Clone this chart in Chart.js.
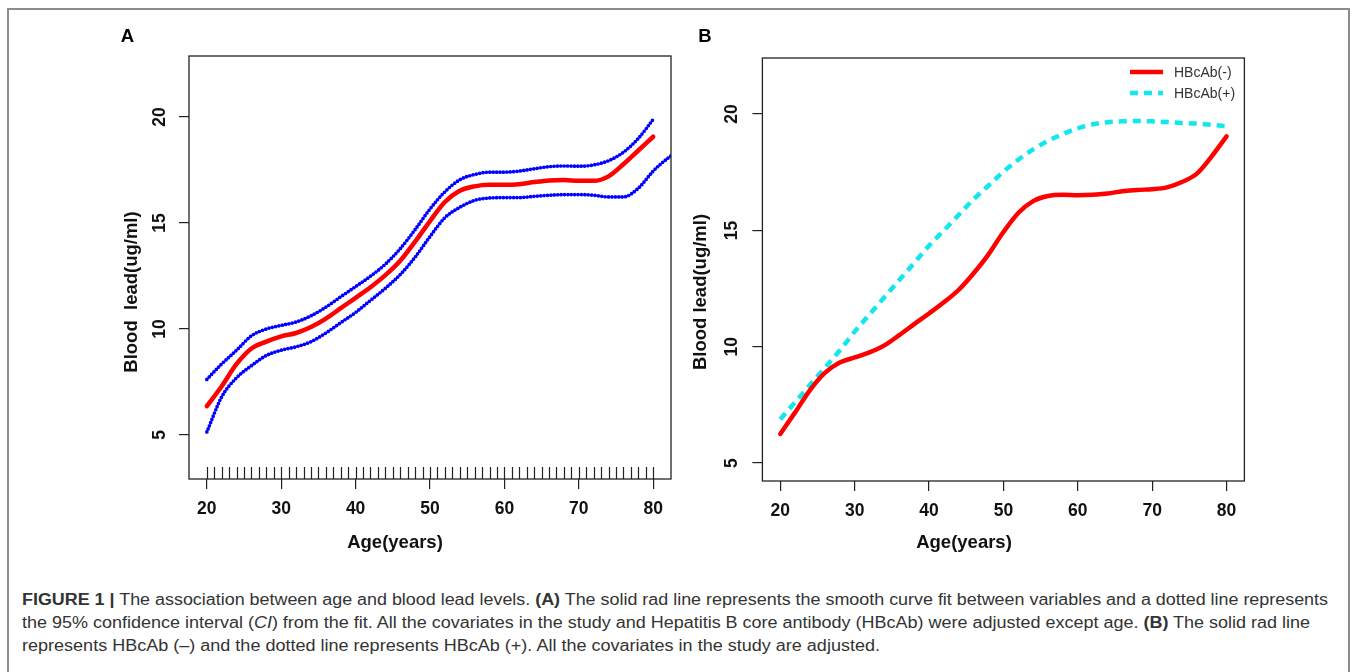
<!DOCTYPE html>
<html>
<head>
<meta charset="utf-8">
<script src="https://cdn.jsdelivr.net/npm/chart.js@4.4.1/dist/chart.umd.min.js"></script>
<style>
  body { margin: 0; width: 1357px; height: 672px; background: #fff; position: relative; overflow: hidden;
         font-family: "Liberation Sans", Arial, sans-serif; }
  #frame { position: absolute; left: 7px; top: 8px; width: 1339px; height: 700px; border: 2px solid #8c8c8c; }
  canvas { position: absolute; }
  #chartA { left: 100px; top: 20px; }
  #chartB { left: 680px; top: 20px; }
  #caption { position: absolute; left: 22px; top: 588px; font-size: 16px; line-height: 23px; color: #333; }
  #caption .line { display: block; white-space: nowrap; transform-origin: 0 50%; width: max-content; }
</style>
</head>
<body>
<div id="frame"></div>
<canvas id="chartA" width="600" height="560"></canvas>
<canvas id="chartB" width="600" height="560"></canvas>
<div id="caption">
  <span class="line"><b>FIGURE 1 |</b> The association between age and blood lead levels. <b>(A)</b> The solid rad line represents the smooth curve fit between variables and a dotted line represents</span>
  <span class="line">the 95% confidence interval (<i>CI</i>) from the fit. All the covariates in the study and Hepatitis B core antibody (HBcAb) were adjusted except age. <b>(B)</b> The solid rad line</span>
  <span class="line">represents HBcAb (–) and the dotted line represents HBcAb (+). All the covariates in the study are adjusted.</span>
</div>
<script>
const ages = [20, 22, 24, 26, 28, 30, 32, 34, 36, 38, 40, 42, 44, 46, 48, 50,
              52, 54, 56, 58, 60, 62, 64, 66, 68, 70, 72, 74, 76, 78, 80];

// panel A: smooth fit and 95% CI
const fitA   = [6.36, 7.30, 8.35, 9.08, 9.40, 9.65, 9.81, 10.09, 10.49, 10.98, 11.47, 11.97, 12.54, 13.22, 14.12, 15.09,
                15.99, 16.52, 16.73, 16.80, 16.80, 16.83, 16.93, 17.01, 17.03, 16.99, 16.99, 17.20, 17.77, 18.42, 19.07];
const upperA = [7.62, 8.35, 9.00, 9.68, 10.00, 10.17, 10.33, 10.62, 11.03, 11.52, 12.00, 12.49, 13.06, 13.79, 14.69, 15.66,
                16.47, 17.04, 17.29, 17.40, 17.40, 17.45, 17.56, 17.66, 17.69, 17.68, 17.74, 17.94, 18.34, 18.99, 19.89];
const lowerA = [5.14, 6.80, 7.70, 8.27, 8.75, 9.00, 9.16, 9.40, 9.81, 10.30, 10.78, 11.35, 11.92, 12.57, 13.39, 14.36,
                15.25, 15.74, 16.07, 16.18, 16.20, 16.20, 16.26, 16.31, 16.34, 16.34, 16.31, 16.23, 16.23, 16.64, 17.45];
// the lower band runs on past 80 to the box edge
const lowerTailAges = [81, 82.5];
const lowerTailA    = [17.78, 18.20];

// rug of observed ages along the bottom of panel A
const rugAges = [20, 21, 22, 23, 24, 25, 26, 27, 28, 29, 30, 31, 32, 33, 34, 35, 36, 37, 38, 39, 40,
                 41, 42, 43, 44, 45, 46, 47, 48, 49, 50, 51, 52, 53, 54, 55, 56, 57, 58, 59, 60,
                 61, 62, 63, 64, 65, 66, 67, 68, 69, 70, 71, 72, 73, 74, 75, 76, 77, 78, 79, 80];

// panel B: stratified by HBcAb
const negB = [6.25, 7.18, 8.14, 8.88, 9.32, 9.54, 9.76, 10.06, 10.50, 10.97, 11.43, 11.91, 12.45, 13.16, 13.97, 14.93,
              15.75, 16.26, 16.48, 16.53, 16.51, 16.53, 16.59, 16.68, 16.74, 16.77, 16.85, 17.08, 17.44, 18.18, 19.04];
const posB = [6.88, 7.62, 8.36, 9.10, 9.84, 10.65, 11.39, 12.13, 12.87, 13.60, 14.34, 15.00, 15.67, 16.34, 16.93, 17.52,
              18.04, 18.48, 18.85, 19.14, 19.39, 19.56, 19.65, 19.69, 19.70, 19.69, 19.66, 19.62, 19.59, 19.54, 19.47];

const xTicks = [20, 30, 40, 50, 60, 70, 80];
const yTicks = [5, 10, 15, 20];
const legendLabels = ['HBcAb(-)', 'HBcAb(+)'];

const FONT = '"Liberation Sans", Arial, sans-serif';
const capWidths = [1306, 1288, 858];

function pts(xs, ys) {
    return xs.map((x, i) => ({ x: x, y: ys[i] }));
}

// box, rug, rotated y labels, titles, panel letter and legend
const decor = {
    id: 'decor',
    afterDatasetsDraw(chart, args, o) {
        const { ctx, chartArea: a, scales } = chart;
        ctx.save();
        if (o.rug) {
            ctx.strokeStyle = '#222';
            ctx.lineWidth = 1.2;
            ctx.beginPath();
            o.rug.forEach(v => {
                const x = Math.round(scales.x.getPixelForValue(v)) + 0.5;
                ctx.moveTo(x, a.bottom);
                ctx.lineTo(x, a.bottom - 12);
            });
            ctx.stroke();
        }
        ctx.strokeStyle = '#222';
        ctx.lineWidth = 1.3;
        ctx.strokeRect(a.left, a.top, a.right - a.left, a.bottom - a.top);

        ctx.fillStyle = '#111';
        ctx.textAlign = 'center';
        ctx.textBaseline = 'middle';
        ctx.font = 'bold 17.5px ' + FONT;
        scales.y.ticks.forEach(t => {
            const y = scales.y.getPixelForValue(t.value);
            ctx.save();
            ctx.translate(o.yLabelX, y);
            ctx.rotate(-Math.PI / 2);
            ctx.fillText(String(t.value), 0, 0);
            ctx.restore();
        });
        ctx.font = 'bold 18.5px ' + FONT;
        ctx.fillText(o.xTitle, o.xTitlePos[0], o.xTitlePos[1]);
        ctx.save();
        ctx.translate(o.yTitlePos[0], o.yTitlePos[1]);
        ctx.rotate(-Math.PI / 2);
        ctx.fillText(o.yTitle, 0, 0);
        ctx.restore();
        ctx.fillStyle = '#000';
        ctx.fillText(o.letter, o.letterPos[0], o.letterPos[1]);

        if (o.legend) {
            ctx.font = '14px ' + FONT;
            ctx.textAlign = 'left';
            chart.data.datasets.forEach((ds, i) => {
                const y = o.legend.y + i * o.legend.gap;
                ctx.strokeStyle = ds.borderColor;
                ctx.lineWidth = ds.borderWidth;
                ctx.setLineDash(ds.borderDash || []);
                ctx.beginPath();
                ctx.moveTo(o.legend.x, y);
                ctx.lineTo(o.legend.x + 33, y);
                ctx.stroke();
                ctx.setLineDash([]);
                ctx.fillStyle = '#333';
                ctx.fillText(ds.label, o.legend.x + 44, y + 1);
            });
        }
        ctx.restore();
    }
};

function options(yMin, yMax, pad, yWidth, xHeight, tickPad, decorOpts) {
    return {
        responsive: false,
        animation: false,
        devicePixelRatio: 1,
        layout: { padding: pad },
        plugins: { legend: { display: false }, tooltip: { enabled: false }, decor: decorOpts },
        elements: { point: { radius: 0 } },
        scales: {
            x: {
                type: 'linear', min: 17.6, max: 82.4,
                afterBuildTicks: s => { s.ticks = xTicks.map(v => ({ value: v })); },
                afterFit: s => { s.height = xHeight; },
                ticks: { color: '#111', padding: tickPad, maxRotation: 0, autoSkip: false,
                         font: { family: FONT, size: 17.5, weight: 'bold' } },
                grid: { drawOnChartArea: false, drawTicks: true, tickLength: 10, color: '#222', lineWidth: 1.2 },
                border: { display: false }
            },
            y: {
                type: 'linear', min: yMin, max: yMax,
                afterBuildTicks: s => { s.ticks = yTicks.map(v => ({ value: v })); },
                afterFit: s => { s.width = yWidth; },
                ticks: { display: false },
                grid: { drawOnChartArea: false, drawTicks: true, tickLength: 10, color: '#222', lineWidth: 1.2 },
                border: { display: false }
            }
        }
    };
}

const dotted = { borderColor: '#0000ff', borderWidth: 3.7, borderDash: [0, 3.4], borderCapStyle: 'round',
                 cubicInterpolationMode: 'monotone', fill: false };

new Chart(document.getElementById('chartA'), {
    type: 'line',
    data: {
        datasets: [
            Object.assign({ label: 'upper', data: pts(ages, upperA) }, dotted),
            Object.assign({ label: 'lower', data: pts(ages.concat(lowerTailAges), lowerA.concat(lowerTailA)) }, dotted),
            { label: 'fit', data: pts(ages, fitA), borderColor: '#ff0000', borderWidth: 4.5,
              cubicInterpolationMode: 'monotone', borderCapStyle: 'round', fill: false }
        ]
    },
    options: options(2.92, 22.88, { top: 36, right: 29, left: 0, bottom: 0 }, 89, 101, 10, {
        rug: rugAges,
        yLabelX: 60, yTitlePos: [32, 272], yTitle: 'Blood  lead(ug/ml)',
        xTitlePos: [295, 523], xTitle: 'Age(years)',
        letter: 'A', letterPos: [27.5, 17]
    }),
    plugins: [decor]
});

new Chart(document.getElementById('chartB'), {
    type: 'line',
    data: {
        datasets: [
            { label: legendLabels[0], data: pts(ages, negB), borderColor: '#ff0000', borderWidth: 4.5,
              cubicInterpolationMode: 'monotone', borderCapStyle: 'round', fill: false },
            { label: legendLabels[1], data: pts(ages, posB), borderColor: '#12e6ee', borderWidth: 4.5,
              borderDash: [8, 6], cubicInterpolationMode: 'monotone', fill: false }
        ]
    },
    options: options(4.23, 22.41, { top: 38, right: 35.6, left: 0, bottom: 0 }, 82.4, 99, 10, {
        yLabelX: 52, yTitlePos: [21, 272], yTitle: 'Blood lead(ug/ml)',
        xTitlePos: [284, 523], xTitle: 'Age(years)',
        letter: 'B', letterPos: [25, 17],
        legend: { x: 450, y: 52, gap: 21 }
    }),
    plugins: [decor]
});

// squeeze each caption line to the width it has in the figure
document.querySelectorAll('#caption .line').forEach((el, i) => {
    const w = el.getBoundingClientRect().width;
    el.style.transform = 'scaleX(' + (capWidths[i] / w) + ')';
});
</script>
</body>
</html>
